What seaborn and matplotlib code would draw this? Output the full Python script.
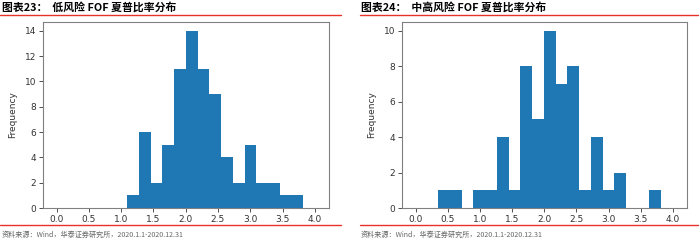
import matplotlib
matplotlib.use("Agg")
import matplotlib.pyplot as plt
import seaborn as sns
import numpy as np
from matplotlib.lines import Line2D

sns.set_style("white")
plt.rcParams['font.family'] = ['DejaVu Sans', 'Noto Sans CJK SC']

# ---- data ----
left_title_num = "图表23："
left_title = "低风险 FOF 夏普比率分布"
right_title_num = "图表24："
right_title = "中高风险 FOF 夏普比率分布"
source_text = "资料来源：Wind，华泰证券研究所，2020.1.1-2020.12.31"
y_label = "Frequency"

left_edges = [1.094, 1.276, 1.458, 1.640, 1.822, 2.004, 2.186, 2.368, 2.550,
              2.732, 2.914, 3.096, 3.278, 3.460, 3.642, 3.824]
left_counts = [1, 6, 2, 5, 11, 14, 11, 9, 4, 2, 5, 2, 2, 1, 1]

right_edges = [0.352, 0.535, 0.717, 0.900, 1.082, 1.265, 1.447, 1.630, 1.812,
               1.995, 2.177, 2.360, 2.542, 2.725, 2.907, 3.090, 3.272, 3.455,
               3.637, 3.820]
right_counts = [1, 1, 0, 1, 1, 4, 1, 8, 5, 10, 7, 8, 1, 4, 1, 2, 0, 0, 1]

x_ticks = [0.0, 0.5, 1.0, 1.5, 2.0, 2.5, 3.0, 3.5, 4.0]
left_yticks = [0, 2, 4, 6, 8, 10, 12, 14]
right_yticks = [0, 2, 4, 6, 8, 10]

W, H = 700, 243
fig = plt.figure(figsize=(7.0, 2.43), dpi=100)

def fx(px):
    return px / W

def fy(py):
    return 1 - py / H

blue = "#1f77b4"

def draw(ax, edges, counts, yticks, ymax):
    centers = [(edges[i] + edges[i + 1]) / 2 for i in range(len(counts))]
    sns.histplot(x=centers, weights=counts, bins=edges, ax=ax, color=blue,
                 alpha=1.0, edgecolor=blue, linewidth=0.0, element="step")
    ax.set_xlim(-0.21, 4.22)
    ax.set_ylim(0, ymax)
    ax.set_xticks(x_ticks)
    ax.set_xticklabels([f"{t:.1f}" for t in x_ticks])
    ax.set_yticks(yticks)
    ax.set_ylabel(y_label, fontsize=6.5, color="#333333", labelpad=5)
    ax.tick_params(axis="both", labelsize=6.5, colors="#333333", length=3,
                   width=0.6, direction="out", bottom=True, left=True, pad=2)
    for s in ax.spines.values():
        s.set_color("#808080")
        s.set_linewidth(0.8)

axL = fig.add_axes([fx(43), fy(208), fx(329 - 43), (208 - 22) / H])
draw(axL, left_edges, left_counts, left_yticks, 14.7)
axR = fig.add_axes([fx(402), fy(208), fx(687 - 402), (208 - 22) / H])
draw(axR, right_edges, right_counts, right_yticks, 10.5)

cjk = ['Noto Sans CJK SC', 'DejaVu Sans']
# titles
fig.text(fx(2), fy(7.5), left_title_num + "  " + left_title, fontsize=7.8,
         fontweight="bold", family=cjk, va="center", ha="left", color="black")
fig.text(fx(361), fy(7.5), right_title_num + "  " + right_title, fontsize=7.8,
         fontweight="bold", family=cjk, va="center", ha="left", color="black")

# red lines
red = "#e8312a"
for (x0, x1) in [(0, 341), (360, 698)]:
    fig.add_artist(Line2D([fx(x0), fx(x1)], [fy(15.5), fy(15.5)], color=red, lw=1.0))
    fig.add_artist(Line2D([fx(x0), fx(x1)], [fy(225), fy(225)], color=red, lw=1.0))

# source
fig.text(fx(2), fy(235), source_text, fontsize=5.1, family=cjk,
         va="center", ha="left", color="#666666")
fig.text(fx(361), fy(235), source_text, fontsize=5.1, family=cjk,
         va="center", ha="left", color="#666666")

fig.savefig("out.png", dpi=100)
